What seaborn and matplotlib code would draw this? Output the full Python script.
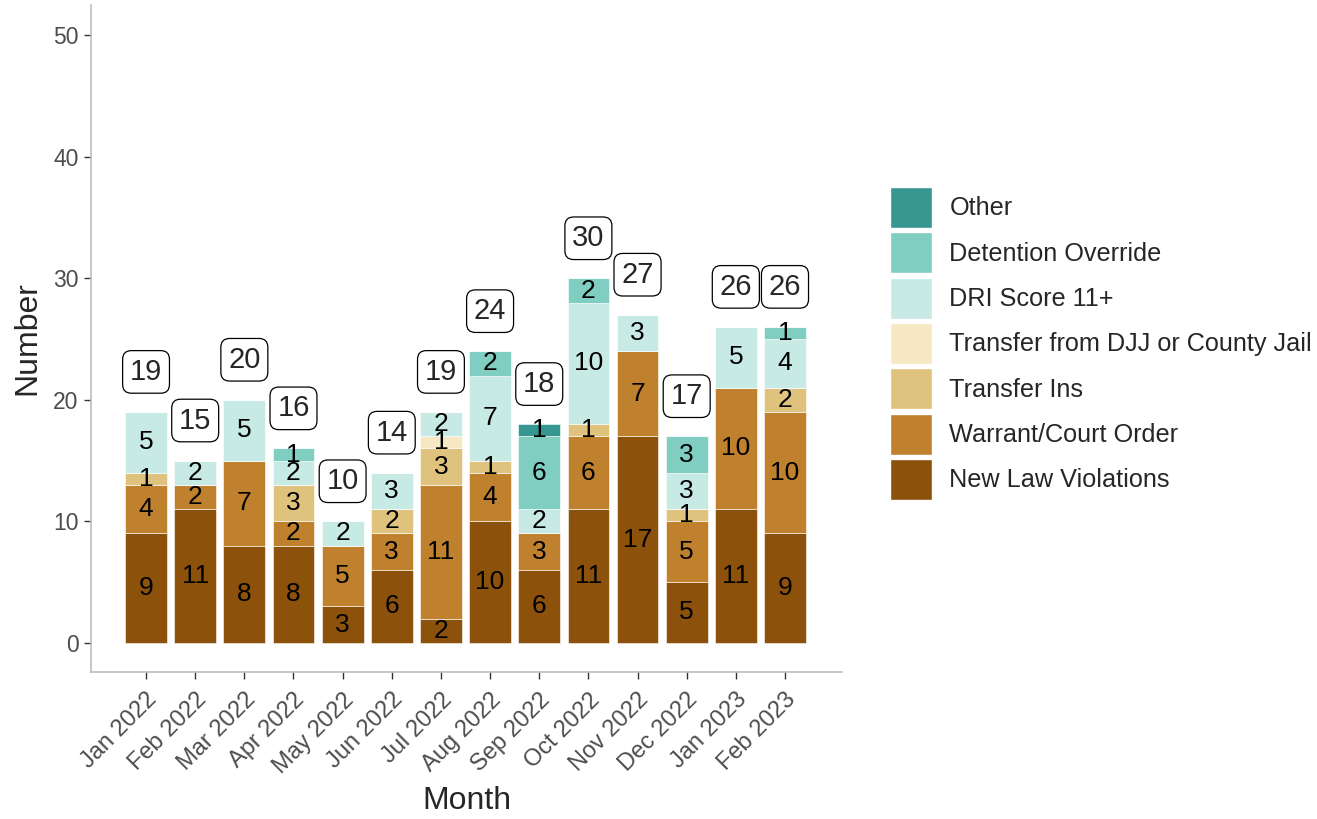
import numpy as np
import matplotlib
matplotlib.use("Agg")
import matplotlib.pyplot as plt
import seaborn as sns
from matplotlib.patches import Patch

months = ["Jan 2022", "Feb 2022", "Mar 2022", "Apr 2022", "May 2022", "Jun 2022", "Jul 2022",
          "Aug 2022", "Sep 2022", "Oct 2022", "Nov 2022", "Dec 2022", "Jan 2023", "Feb 2023"]

# stacked from the bottom up
reasons = ["New Law Violations", "Warrant/Court Order", "Transfer Ins",
           "Transfer from DJJ or County Jail", "DRI Score 11+", "Detention Override", "Other"]
new_law = [9, 11, 8, 8, 3, 6, 2, 10, 6, 11, 17, 5, 11, 9]
warrant = [4, 2, 7, 2, 5, 3, 11, 4, 3, 6, 7, 5, 10, 10]
transfer_ins = [1, 0, 0, 3, 0, 2, 3, 1, 0, 1, 0, 1, 0, 2]
transfer_djj = [0, 0, 0, 0, 0, 0, 1, 0, 0, 0, 0, 0, 0, 0]
dri = [5, 2, 5, 2, 2, 3, 2, 7, 2, 10, 3, 3, 5, 4]
override = [0, 0, 0, 1, 0, 0, 0, 2, 6, 2, 0, 3, 0, 1]
other = [0, 0, 0, 0, 0, 0, 0, 0, 1, 0, 0, 0, 0, 0]
series = [new_law, warrant, transfer_ins, transfer_djj, dri, override, other]

colors = ["#8c510a", "#bf812d", "#dfc27d", "#f6e8c3", "#c7eae5", "#80cdc1", "#35978f"]

sns.set_style("white")
plt.rcParams["font.family"] = ["Liberation Sans", "DejaVu Sans"]

fig = plt.figure(figsize=(13.17, 8.19), dpi=100)
ax = fig.add_axes([91 / 1317, 147 / 819, (842 - 91) / 1317, (672 - 5) / 819])

bottom = np.zeros(len(months))
for name, vals, col in zip(reasons, series, colors):
    vals = np.array(vals, dtype=float)
    sns.barplot(x=months, y=vals, bottom=bottom, color=col, width=0.85,
                errorbar=None, saturation=1, edgecolor="white", linewidth=0.4, ax=ax)
    for i, v in enumerate(vals):
        if v > 0:
            ax.text(i, bottom[i] + v / 2, f"{int(v)}", ha="center", va="center",
                    fontsize=19, color="black")
    bottom += vals

totals = bottom
for i, t in enumerate(totals):
    ax.text(i, t + 3.3, f"{int(t)}", ha="center", va="center", fontsize=21,
            bbox=dict(boxstyle="round,pad=0.25,rounding_size=0.3", fc="white", ec="black", lw=0.9))

ax.set_xlim(-1.12, len(months) - 1 + 1.16)
ax.set_ylim(-2.4, 52.5)
ax.set_yticks([0, 10, 20, 30, 40, 50])
ax.set_xticks(range(len(months)))
ax.set_xticklabels(months, rotation=45, ha="right", va="top", rotation_mode="anchor")
ax.tick_params(axis="both", labelsize=16.5, labelcolor="#4d4d4d", length=5, color="#333333",
               left=True, bottom=True, width=1.0, pad=4)
ax.tick_params(axis="x", labelsize=17, pad=7)
ax.set_xlabel("Month", fontsize=23, labelpad=6)
ax.set_ylabel("Number", fontsize=23, labelpad=8)
for s in ["top", "right"]:
    ax.spines[s].set_visible(False)
for s in ["left", "bottom"]:
    ax.spines[s].set_color("#bdbdbd")
    ax.spines[s].set_linewidth(1.2)

handles = [Patch(facecolor=c, edgecolor="white", label=n) for n, c in zip(reasons, colors)][::-1]
fig.legend(handles=handles, loc="upper left", bbox_to_anchor=(890 / 1317, 1 - 187 / 819),
           frameon=False, fontsize=18.2, handlelength=1.65, handleheight=2.12,
           labelspacing=0.17, handletextpad=0.7, borderpad=0, borderaxespad=0)

fig.savefig("out.png", dpi=100)
